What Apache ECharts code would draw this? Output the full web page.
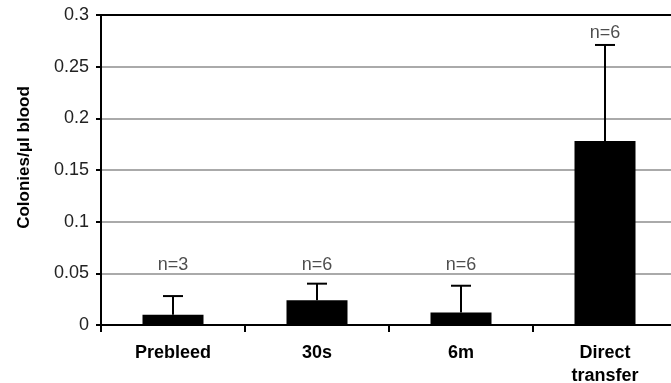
<!DOCTYPE html>
<html>
<head>
<meta charset="utf-8">
<script src="https://cdn.jsdelivr.net/npm/echarts@6/dist/echarts.min.js"></script>
<style>
  html, body { margin: 0; padding: 0; background: #fff; }
  #chart { width: 671px; height: 383px; }
</style>
</head>
<body>
<div id="chart"></div>
<script>
  // data
  var categories = ['Prebleed', '30s', '6m', 'Direct\ntransfer'];
  var means = [0.010, 0.024, 0.012, 0.178];
  var errorTops = [0.028, 0.040, 0.038, 0.271];
  var nLabels = ['n=3', 'n=6', 'n=6', 'n=6'];
  var nLabelY = [0.058, 0.058, 0.058, 0.283];
  var yTicks = [0, 0.05, 0.1, 0.15, 0.2, 0.25, 0.3];

  var font = '"Liberation Sans", Arial, Helvetica, sans-serif';

  var myChart = echarts.init(document.getElementById('chart'));

  var option = {
    backgroundColor: '#fff',
    animation: false,
    grid: {
      left: 101,
      top: 15,
      width: 576,
      height: 310,
      outerBoundsMode: 'none',
      containLabel: false,
      show: true,
      borderColor: '#000',
      borderWidth: 2,
      backgroundColor: 'transparent'
    },
    xAxis: {
      type: 'category',
      data: categories,
      axisLine: { lineStyle: { color: '#000', width: 2 } },
      axisTick: { show: true, length: 7, lineStyle: { color: '#000', width: 2 } },
      axisLabel: {
        color: '#000',
        fontFamily: font,
        fontWeight: 'bold',
        fontSize: 18,
        margin: 17,
        lineHeight: 23
      }
    },
    yAxis: {
      type: 'value',
      min: 0,
      max: 0.3,
      interval: 0.05,
      name: 'Colonies/\u03bcl blood',
      nameLocation: 'middle',
      nameGap: 68,
      nameTextStyle: {
        color: '#000',
        fontFamily: font,
        fontWeight: 'bold',
        fontSize: 17,
        padding: [0, 0, 0, 25]
      },
      axisLine: { show: true, lineStyle: { color: '#000', width: 2 } },
      axisTick: { show: true, length: 5, lineStyle: { color: '#000', width: 2 } },
      splitLine: { showMaxLine: false, lineStyle: { color: '#aaa', width: 2 } },
      axisLabel: {
        color: '#222',
        fontFamily: font,
        fontSize: 18,
        margin: 12,
        formatter: function (v) {
          var t = yTicks.filter(function (x) { return Math.abs(x - v) < 1e-9; });
          return t.length ? String(t[0]) : '';
        }
      }
    },
    series: [
      {
        type: 'bar',
        data: means,
        barWidth: 61,
        itemStyle: { color: '#000' },
        z: 2
      },
      {
        type: 'custom',
        z: 3,
        data: categories.map(function (c, i) { return [i, means[i], errorTops[i]]; }),
        renderItem: function (params, api) {
          var base = api.coord([api.value(0), api.value(1)]);
          var top = api.coord([api.value(0), api.value(2)]);
          var cap = 10;
          var style = { stroke: '#000', lineWidth: 2 };
          return {
            type: 'group',
            children: [
              { type: 'line', shape: { x1: base[0], y1: base[1], x2: top[0], y2: top[1] }, style: style },
              { type: 'line', shape: { x1: top[0] - cap, y1: top[1], x2: top[0] + cap, y2: top[1] }, style: style }
            ]
          };
        }
      },
      {
        type: 'scatter',
        symbolSize: 0,
        data: categories.map(function (c, i) { return [i, nLabelY[i]]; }),
        label: {
          show: true,
          position: 'inside',
          color: '#222',
          fontFamily: font,
          fontSize: 18,
          formatter: function (p) { return nLabels[p.dataIndex]; }
        },
        z: 4
      }
    ]
  };

  myChart.setOption(option);
</script>
</body>
</html>
